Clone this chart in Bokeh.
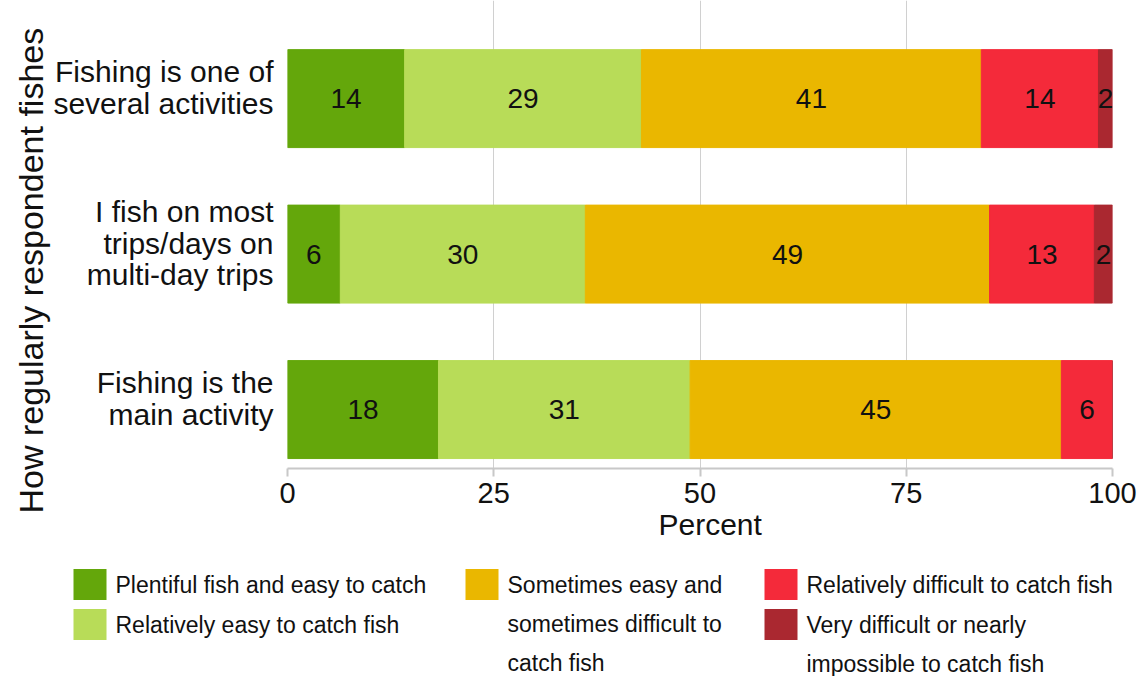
from bokeh.plotting import figure
from bokeh.models import ColumnDataSource, Range1d, FixedTicker, Title
from bokeh.embed import file_html
from bokeh.resources import INLINE
from bokeh.core.properties import value

# ---------------- data ----------------
categories = ["Fishing is the\nmain activity",
              "I fish on most\ntrips/days on\nmulti-day trips",
              "Fishing is one of\nseveral activities"]
series = ["Plentiful fish and easy to catch",
          "Relatively easy to catch fish",
          "Sometimes easy and sometimes difficult to catch fish",
          "Relatively difficult to catch fish",
          "Very difficult or nearly impossible to catch fish"]
legend_labels = ["Plentiful fish and easy to catch",
                 "Relatively easy to catch fish",
                 "Sometimes easy and\nsometimes difficult to\ncatch fish",
                 "Relatively difficult to catch fish",
                 "Very difficult or nearly\nimpossible to catch fish"]
colors = ["#64a70b", "#b8dc58", "#eab700", "#f42a3a", "#aa2830"]
plentiful = [18.3, 6.4, 14.2]
rel_easy = [30.5, 29.7, 28.7]
sometimes = [45.0, 49.0, 41.2]
rel_diff = [6.2, 12.7, 14.2]
very_diff = [0.0, 2.2, 1.7]
x_ticks = [0, 25, 50, 75, 100]
y_title = "How regularly respondent fishes"
x_title = "Percent"

FONT_NAME = "Liberation Sans"
FONT = value(FONT_NAME)
TXT = "#111111"
MAIN_H = 540

values = [plentiful, rel_easy, sometimes, rel_diff, very_diff]
keys = ["s%d" % i for i in range(len(series))]
ypos = list(range(len(categories)))
data = dict(y=ypos)
for k, v in zip(keys, values):
    data[k] = v
src = ColumnDataSource(data)

p = figure(width=1146, height=MAIN_H, output_backend="svg", toolbar_location=None,
           x_range=Range1d(0, 100), y_range=Range1d(-0.379, 2.631),
           min_border_left=287, min_border_right=34, min_border_top=0,
           min_border_bottom=0)
p.outline_line_color = None
p.hbar_stack(keys, y="y", height=0.63, color=colors, source=src)

# value labels
lx, ly, lt = [], [], []
for ri in range(len(categories)):
    cum = 0.0
    for v in values:
        val = v[ri]
        if val >= 1:
            lx.append(cum + val / 2.0)
            ly.append(ypos[ri])
            lt.append(str(int(val + 0.5)))
        cum += val
p.text(x=lx, y=ly, text=lt, text_align="center", text_baseline="middle",
       text_font=FONT, text_font_size="28px", text_color=TXT)

# axes
p.xaxis.ticker = FixedTicker(ticks=x_ticks)
p.xaxis.axis_line_color = "#c8c8c8"
p.xaxis.axis_line_width = 2
p.xaxis.major_tick_line_color = "#c8c8c8"
p.xaxis.major_tick_line_width = 2
p.xaxis.major_tick_out = 8
p.xaxis.major_tick_in = 0
p.xaxis.minor_tick_line_color = None
p.xaxis.major_label_text_font = FONT_NAME
p.xaxis.major_label_text_font_size = "29px"
p.xaxis.major_label_text_color = TXT
p.xaxis.major_label_standoff = 6

# category labels sit slightly above the bar centres, as in the reference
LABEL_SHIFT = 0.071
ytick_pos = [y + LABEL_SHIFT for y in ypos]
p.yaxis.ticker = FixedTicker(ticks=ytick_pos)
p.yaxis.major_label_overrides = {t: c for t, c in zip(ytick_pos, categories)}
p.yaxis.axis_line_color = None
p.yaxis.major_tick_line_color = None
p.yaxis.minor_tick_line_color = None
p.yaxis.major_tick_out = 0
p.yaxis.major_tick_in = 0
p.yaxis.major_label_standoff = 14
p.yaxis.major_label_text_font = FONT_NAME
p.yaxis.major_label_text_font_size = "30px"
p.yaxis.major_label_text_color = TXT
p.yaxis.major_label_text_line_height = 0.95

# axis titles as side titles (offset lets them sit where the reference has them)
yt = Title(text=y_title, align="left", offset=-45, standoff=2,
           text_font=FONT_NAME, text_font_size="34px",
           text_font_style="normal", text_color=TXT)
p.add_layout(yt, "left")
xt = Title(text=x_title, align="left", offset=371, standoff=0,
           text_font=FONT_NAME, text_font_size="30px",
           text_font_style="normal", text_color=TXT)
p.add_layout(xt, "below")

p.xgrid.ticker = FixedTicker(ticks=x_ticks)
p.xgrid.grid_line_color = "#d0d0d0"
p.ygrid.grid_line_color = None

# ---------------- legend (manual, wrapped like the reference) ----------------
LW, LH = 1146, 676 - MAIN_H
lf = figure(width=LW, height=LH, output_backend="svg", toolbar_location=None,
            x_range=Range1d(0, LW), y_range=Range1d(LH, 0),
            x_axis_type=None, y_axis_type=None, min_border=0)
lf.outline_line_color = None
lf.grid.visible = False

col_x = [73, 465, 764]
row_y = [44, 84]
slots = [(0, 0), (0, 1), (1, 0), (2, 0), (2, 1)]
line_gap = 39
sw_x, sw_y, sw_c = [], [], []
tx, ty, tt = [], [], []
for lab, col, (ci, rj) in zip(legend_labels, colors, slots):
    x0 = col_x[ci]
    y0 = row_y[rj]
    sw_x.append(x0 + 16.5)
    sw_y.append(y0)
    sw_c.append(col)
    for li, line in enumerate(lab.split("\n")):
        tx.append(x0 + 42)
        ty.append(y0 + li * line_gap)
        tt.append(line)
lf.rect(x=sw_x, y=sw_y, width=33, height=31, fill_color=sw_c, line_color=None)
lf.text(x=tx, y=ty, text=tt, text_align="left", text_baseline="middle",
        text_font=FONT, text_font_size="23px", text_color=TXT)

open("out.html", "w").write(file_html([p, lf], INLINE))
